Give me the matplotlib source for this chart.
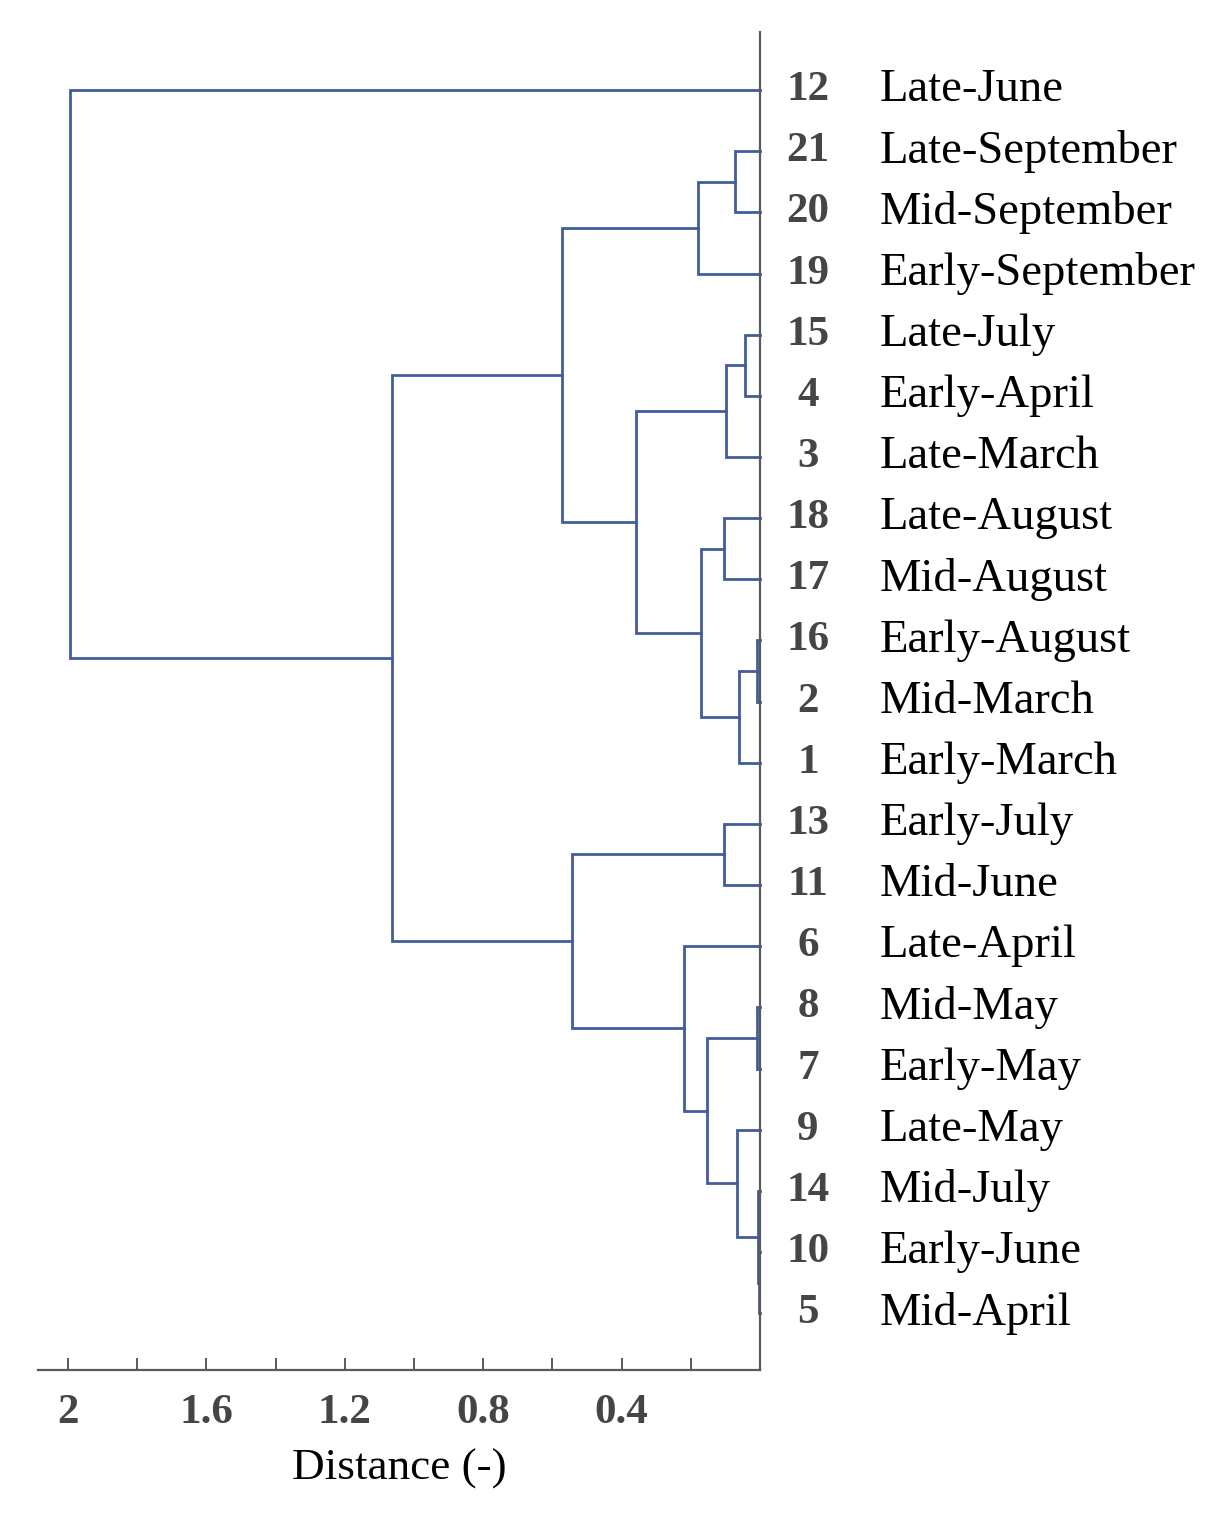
import matplotlib.pyplot as plt
import matplotlib.transforms as mtransforms

# leaves, top to bottom, as they appear in the dendrogram
leaf_ids = [12, 21, 20, 19, 15, 4, 3, 18, 17, 16, 2, 1, 13, 11, 6, 8, 7, 9, 14, 10, 5]
leaf_names = ['Late-June', 'Late-September', 'Mid-September', 'Early-September',
              'Late-July', 'Early-April', 'Late-March', 'Late-August', 'Mid-August',
              'Early-August', 'Mid-March', 'Early-March', 'Early-July', 'Mid-June',
              'Late-April', 'Mid-May', 'Early-May', 'Late-May', 'Mid-July',
              'Early-June', 'Mid-April']

# merges: new clusters numbered 22, 23, ... in this order
merge_a = [16, 10, 14, 8, 15, 22, 9, 21, 26, 18, 13, 25, 31, 29, 6, 30, 32, 35, 39, 12]
merge_b = [2, 5, 23, 7, 4, 1, 24, 20, 3, 17, 11, 28, 27, 19, 33, 34, 36, 37, 38, 40]
merge_dist = [0.009, 0.002, 0.006, 0.010, 0.043, 0.061, 0.066, 0.072, 0.098, 0.104,
              0.104, 0.153, 0.171, 0.179, 0.220, 0.358, 0.543, 0.572, 1.064, 1.994]

major_ticks = [2, 1.6, 1.2, 0.8, 0.4]
minor_ticks = [1.8, 1.4, 1.0, 0.6, 0.2]

line_color = '#425c9c'
serif = ['Liberation Serif', 'DejaVu Serif']

fig = plt.figure(figsize=(12.23, 15.19), dpi=100)
ax = fig.add_axes([38 / 1223, 1 - 1370 / 1519, 722 / 1223, (1370 - 32) / 1519])

# position (y) and height (x) of every node
pos = {lid: i for i, lid in enumerate(leaf_ids)}
height = {lid: 0.0 for lid in leaf_ids}
next_id = 22
for a, b, d in zip(merge_a, merge_b, merge_dist):
    ya, yb = pos[a], pos[b]
    ax.plot([height[a], d, d, height[b]], [ya, ya, yb, yb],
            color=line_color, lw=2.0, solid_joinstyle='miter', clip_on=False)
    pos[next_id] = (ya + yb) / 2
    height[next_id] = d
    next_id += 1

ax.set_xlim(2.087, 0)
ax.set_ylim(20.93, -0.95)

for s in ['left', 'top']:
    ax.spines[s].set_visible(False)
for s in ['right', 'bottom']:
    ax.spines[s].set_color('#5a5a5a')
    ax.spines[s].set_linewidth(1.6)

ax.set_yticks([])
ax.set_xticks(major_ticks)
ax.set_xticks(minor_ticks, minor=True)
ax.set_xticklabels(['2', '1.6', '1.2', '0.8', '0.4'])
ax.tick_params(axis='x', which='both', direction='in', length=9, width=1.4,
               color='#5a5a5a', pad=17)
for lab in ax.get_xticklabels():
    lab.set_fontfamily(serif)
    lab.set_fontweight('bold')
    lab.set_fontsize(31)
    lab.set_color('#454545')

ax.set_xlabel('Distance (-)', fontsize=32.5, family=serif, labelpad=12)

trans = mtransforms.blended_transform_factory(ax.transAxes, ax.transData)
for i, (lid, name) in enumerate(zip(leaf_ids, leaf_names)):
    ax.text(1.0665, i, str(lid), transform=trans, ha='center', va='center',
            fontsize=31, fontweight='bold', family=serif, color='#454545')
    ax.text(1.166, i, name, transform=trans, ha='left', va='center',
            fontsize=33.6, family=serif, color='black')

fig.savefig('out.png', dpi=100)
